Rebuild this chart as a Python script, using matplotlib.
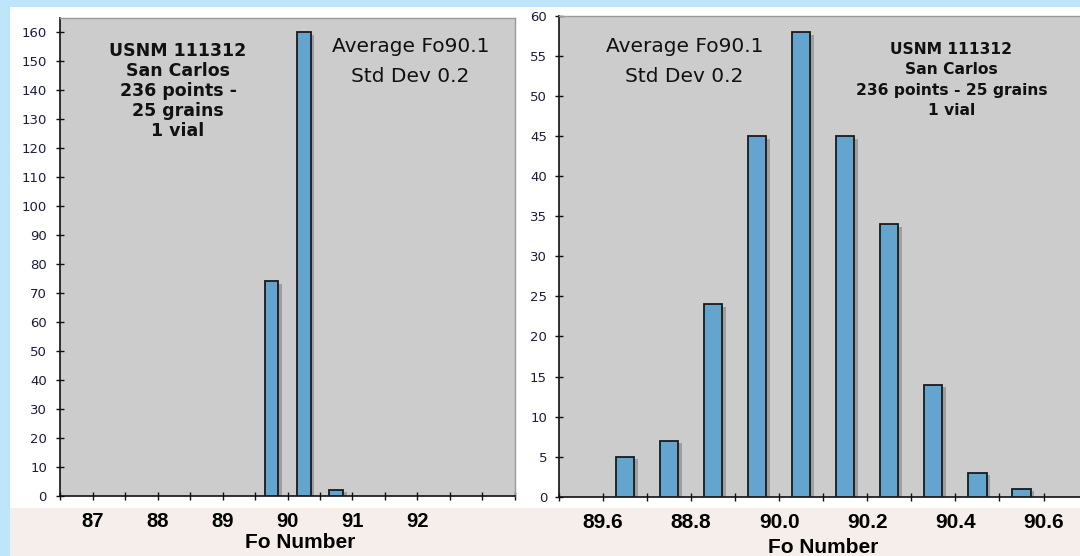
import matplotlib
matplotlib.use('Agg')
import matplotlib.pyplot as plt
from matplotlib.patches import Rectangle
from matplotlib.transforms import ScaledTranslation
import numpy as np

# ---------------- data ----------------
left_bins = [89.75, 90.25, 90.75]
left_counts = [74, 160, 2]
left_tick_pos = [87, 88, 89, 90, 91, 92]
left_tick_labels = ['87', '88', '89', '90', '91', '92']
left_yticks = list(range(0, 161, 10))

right_bins = [89.65, 89.75, 89.85, 89.95, 90.05, 90.15, 90.25, 90.35, 90.45, 90.55]
right_counts = [5, 7, 24, 45, 58, 45, 34, 14, 3, 1]
right_tick_pos = [89.6, 89.8, 90.0, 90.2, 90.4, 90.6]
right_tick_labels = ['89.6', '88.8', '90.0', '90.2', '90.4', '90.6']
right_yticks = list(range(0, 61, 5))

avg_text = 'Average Fo90.1\nStd Dev 0.2'
sample_left = 'USNM 111312\nSan Carlos\n236 points -\n25 grains\n1 vial'
sample_right = 'USNM 111312\nSan Carlos\n236 points - 25 grains\n1 vial'
x_label = 'Fo Number'

# ---------------- style ----------------
W, H = 1080, 556
BLUE = '#BDE6FB'
PINK = '#F5EEEB'
PLOT_BG = '#CCCCCC'
BAR = '#64A5D0'
SHADOW = '#9E9E9E'
TICKC = '#1C1C3C'


def fx(x):
    return x / W


def fy(y):
    return 1 - y / H


fig = plt.figure(figsize=(W / 100, H / 100), dpi=100, facecolor=BLUE)
fig.patches.append(Rectangle((fx(10), fy(508)), 1 - fx(10), fy(7) - fy(508),
                             transform=fig.transFigure, facecolor='white',
                             edgecolor='none', zorder=-10))
fig.patches.append(Rectangle((fx(10), 0), 1 - fx(10), fy(508),
                             transform=fig.transFigure, facecolor=PINK,
                             edgecolor='none', zorder=-10))

shadow_off = ScaledTranslation(3.5 / 100, -2.5 / 100, fig.dpi_scale_trans)


def style_axes(ax, ypad):
    ax.set_facecolor(PLOT_BG)
    for s in ('left', 'bottom'):
        ax.spines[s].set_color('#111111')
        ax.spines[s].set_linewidth(1.2)
    for s in ('top', 'right'):
        ax.spines[s].set_color('#9A9A9A')
        ax.spines[s].set_linewidth(1.0)
    ax.tick_params(axis='y', which='both', direction='inout', length=6, width=1,
                   color='#111111', labelsize=9.5, labelcolor=TICKC, pad=ypad)
    ax.tick_params(axis='x', which='both', direction='inout', length=6, width=1,
                   color='#111111')


def draw_bars(ax, x, h, w):
    ax.bar(x, h, width=w, color=SHADOW, edgecolor='none', zorder=2,
           transform=ax.transData + shadow_off)
    ax.bar(x, h, width=w, color=BAR, edgecolor='#1A1A1A', linewidth=1.3, zorder=3)


# ---------------- left chart ----------------
axL = fig.add_axes([fx(60.3), fy(495.7), fx(514.8) - fx(60.3), fy(17.9) - fy(495.7)])
draw_bars(axL, left_bins, left_counts, 0.21)
axL.set_xlim(86.5, 93.5)
axL.set_ylim(0, 164.9)
axL.set_yticks(left_yticks)
axL.set_xticks(left_tick_pos)
axL.set_xticklabels(left_tick_labels, fontfamily='Liberation Sans',
                    fontweight='bold', fontsize=14.5)
axL.set_xticks(np.arange(86.5, 93.51, 0.5), minor=True)
style_axes(axL, 6.6)
axL.tick_params(axis='x', which='major', pad=8.5)
axL.set_xlabel(x_label, fontfamily='Liberation Sans', fontweight='bold', fontsize=15,
               va='center')
axL.xaxis.set_label_coords(0.527, -0.097)

fig.text(fx(178), fy(91), sample_left, ha='center', va='center',
         fontfamily='DejaVu Sans', fontweight='bold', fontsize=12.5,
         linespacing=1.16, color='#111111')
fig.text(fx(410.6), fy(61.5), avg_text, ha='center', va='center',
         fontfamily='DejaVu Sans', fontsize=14.5, linespacing=1.68, color='#111111')

# ---------------- right chart ----------------
axR = fig.add_axes([fx(559), fy(496.7), fx(1087.6) - fx(559), fy(16) - fy(496.7)])
draw_bars(axR, right_bins, right_counts, 0.041)
axR.set_xlim(89.5, 90.7)
axR.set_ylim(0, 60)
axR.set_yticks(right_yticks)
axR.set_xticks(right_tick_pos)
axR.set_xticklabels(right_tick_labels, fontfamily='Liberation Sans',
                    fontweight='bold', fontsize=15)
axR.set_xticks(np.arange(89.5, 90.71, 0.1), minor=True)
style_axes(axR, 5.6)
axR.tick_params(axis='x', which='major', pad=9)
axR.set_xlabel(x_label, fontfamily='Liberation Sans', fontweight='bold', fontsize=15,
               va='center')
axR.xaxis.set_label_coords(0.5, -0.105)

fig.text(fx(951.5), fy(80), sample_right, ha='center', va='center',
         fontfamily='DejaVu Sans', fontweight='bold', fontsize=11.2,
         linespacing=1.42, color='#111111')
fig.text(fx(684.6), fy(61.5), avg_text, ha='center', va='center',
         fontfamily='DejaVu Sans', fontsize=14.5, linespacing=1.68, color='#111111')

fig.savefig('out.png', dpi=100, facecolor=BLUE)
